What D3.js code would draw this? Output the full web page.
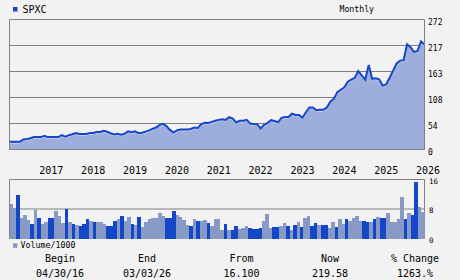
<!DOCTYPE html>
<html><head><meta charset="utf-8">
<script src="https://cdn.jsdelivr.net/npm/d3@7"></script>
<style>html,body{margin:0;padding:0;background:#f2f2f2;}svg{display:block;}</style>
</head><body>
<svg id="c" width="460" height="280"></svg>
<script>
const ticker = "SPXC";
const period = "Monthly";
const startMonth = "2016-04-01";
const price = [16.1,16,16,16.3,21,22,23.5,26,26,26,28.5,26,26,26,26,30,27,30,32,34.5,
32.5,32.5,32.5,34.5,34.5,36.5,36.8,39,37,34,31.5,33,31,33,38,36,38,34,35,37.5,
40,43,46,51,53.6,49,41,35.5,40,41.8,41.8,41.8,43,46,45,53,55.7,55.5,57.8,60,
62,63.4,62,67.6,64.5,56.5,60,60,62,54.4,53.6,53,44,51.5,55.7,61.3,59.6,57,66,68.2,
68.2,75,72.4,72,67,78,88,88,82,83,83,88,100,106,120,125,130,142,146,150,
164,155,146,177,148,149,147,134,136,150,165,180,186,187,220,214,204,206,226,219.58];
const volume = [9.4,8.3,11.8,5.5,6.4,5.0,3.9,7.7,5.5,3.9,4.45,5.5,5.5,7.4,6.1,4.2,8.0,4.45,3.9,3.6,
3.35,3.9,5.3,4.7,4.45,4.45,4.45,3.9,3.35,3.35,4.7,5.3,6.1,4.7,5.8,3.9,3.6,5.8,3.0,4.45,
5.3,5.5,5.5,6.9,6.1,5.5,5.5,7.4,6.4,5.8,5.0,3.6,3.35,5.3,4.7,4.7,5.0,4.2,3.35,5.3,
5.3,2.2,3.9,2.3,2.3,3.35,2.6,2.9,3.35,2.9,2.6,2.6,2.9,4.7,6.6,2.9,3.0,3.0,3.35,4.2,
3.35,2.3,3.6,4.45,3.0,5.5,6.1,3.35,4.2,3.6,3.6,3.6,2.9,4.45,3.0,5.3,3.9,5.3,4.7,5.5,
6.1,4.7,4.7,4.45,4.45,5.3,5.8,5.5,5.5,6.9,4.45,4.45,5.3,11.3,5.3,6.9,6.4,15.4,8.55,7.3];
const volumeUp = [0,0,1,0,0,0,1,0,1,0,0,1,1,0,0,0,1,0,1,0,
1,1,1,0,1,0,0,0,1,1,1,0,1,0,0,1,0,1,0,0,
0,0,0,0,0,1,1,1,0,0,0,0,1,0,1,0,0,1,0,0,
0,0,1,0,1,1,0,0,0,1,1,1,1,0,0,0,1,1,0,0,
1,0,1,0,1,0,0,1,1,0,1,1,0,0,1,0,0,1,0,0,
0,0,1,1,0,1,0,1,1,0,0,0,0,0,1,0,1,1,0,0];
const priceTicks = [0,54.4,108.8,163.2,217.6,272];
const priceTickLabels = ["0","54","108","163","217","272"];
const volTicks = [0,8,16];
const volTickLabels = ["0","8","16"];
const yearLabels = ["2017","2018","2019","2020","2021","2022","2023","2024","2025","2026"];
const summaryHeads = ["Begin","End","From","Now","% Change"];
const summaryVals = ["04/30/16","03/03/26","16.100","219.58","1263.%"];

const svg = d3.select("#c");
const FONT = "'DejaVu Sans Mono', monospace";
const L = 9.5, R = 424.5;
const start = new Date(startMonth + "T00:00:00");
const dates = price.map((_, i) => d3.timeMonth.offset(start, i));

const idx = d3.scaleLinear().domain([0, price.length - 1]).range([L, R]);
const x = d3.scaleTime().domain([dates[0], dates[dates.length - 1]]).range([L, R]);
const y = d3.scaleLinear().domain([0, 272]).range([149.5, 19.5]);
const xb = d3.scaleBand().domain(d3.range(volume.length)).range([L, R]).padding(0);
const yv = d3.scaleLinear().domain([0, 16]).range([238.5, 179.5]);

const DARK = "#1446c8", LIGHT = "#8899c6", FILL = "#9daedd", GRID = "#808080";

// legend
svg.append("rect").attr("x", 13).attr("y", 7).attr("width", 4.5).attr("height", 4.5).attr("fill", DARK);
svg.append("text").attr("x", 22.5).attr("y", 12.6).attr("font-family", FONT).attr("font-size", 10).text(ticker);
svg.append("text").attr("x", 339.5).attr("y", 12.3).attr("font-family", FONT).attr("font-size", 8.2).text(period);

// price grid
svg.append("g").selectAll("line").data(priceTicks).join("line")
  .attr("x1", L).attr("x2", R).attr("y1", d => y(d)).attr("y2", d => y(d))
  .attr("stroke", GRID).attr("stroke-width", 1);

// area + line
const area = d3.area().x((d, i) => idx(i)).y0(y(0)).y1(d => y(d));
const line = d3.line().x((d, i) => idx(i)).y(d => y(d));
svg.append("path").datum(price).attr("d", area).attr("fill", FILL);
svg.append("path").datum(price).attr("d", line).attr("fill", "none").attr("stroke", "#ffffff")
  .attr("stroke-width", 0.8).attr("opacity", 0.6).attr("transform", "translate(0,1.3)");
svg.append("path").datum(price).attr("d", line).attr("fill", "none").attr("stroke", DARK)
  .attr("stroke-width", 2).attr("stroke-linejoin", "miter");

// frame main
svg.append("line").attr("x1", L).attr("x2", R).attr("y1", y(0)).attr("y2", y(0)).attr("stroke", GRID);
svg.append("line").attr("x1", L).attr("x2", L).attr("y1", y(272)).attr("y2", y(0)).attr("stroke", GRID);
svg.append("line").attr("x1", R).attr("x2", R).attr("y1", y(272)).attr("y2", y(0)).attr("stroke", GRID);

// price axis labels
svg.selectAll("text.pt").data(priceTicks).join("text").attr("class", "pt")
  .attr("x", 428).attr("y", d => y(d) + 5).attr("font-family", FONT).attr("font-size", 8)
  .text((d, i) => priceTickLabels[i]);

// year labels
svg.selectAll("text.yr").data(yearLabels).join("text").attr("class", "yr")
  .attr("x", d => x(new Date(+d, 3, 1))).attr("y", 174).attr("text-anchor", "middle")
  .attr("font-family", FONT).attr("font-size", 10).text(d => d);

// volume grid
svg.selectAll("line.vg").data(volTicks).join("line").attr("class", "vg")
  .attr("x1", L).attr("x2", R).attr("y1", d => yv(d)).attr("y2", d => yv(d)).attr("stroke", GRID);
svg.append("line").attr("x1", L).attr("x2", L).attr("y1", yv(16)).attr("y2", yv(0)).attr("stroke", GRID);
svg.append("line").attr("x1", R).attr("x2", R).attr("y1", yv(16)).attr("y2", yv(0)).attr("stroke", GRID);

// volume bars
svg.append("g").selectAll("rect").data(volume).join("rect")
  .attr("x", (d, i) => xb(i)).attr("width", xb.bandwidth())
  .attr("y", d => yv(d)).attr("height", d => yv(0) - yv(d))
  .attr("fill", (d, i) => volumeUp[i] ? DARK : LIGHT).attr("shape-rendering", "crispEdges");

svg.selectAll("text.vt").data(volTicks).join("text").attr("class", "vt")
  .attr("x", 429).attr("y", d => yv(d) + 4).attr("font-family", FONT).attr("font-size", 7.5)
  .text((d, i) => volTickLabels[i]);

// volume legend
svg.append("rect").attr("x", 13).attr("y", 243.3).attr("width", 4.5).attr("height", 4.5).attr("fill", LIGHT);
svg.append("text").attr("x", 20.5).attr("y", 248).attr("font-family", FONT).attr("font-size", 8.3).text("Volume/1000");

// summary
const cols = [60, 147, 241.5, 330, 415];
svg.selectAll("text.sh").data(summaryHeads).join("text").attr("class", "sh")
  .attr("x", (d, i) => cols[i]).attr("y", 262).attr("text-anchor", "middle")
  .attr("font-family", FONT).attr("font-size", 10).text(d => d);
svg.selectAll("text.sv").data(summaryVals).join("text").attr("class", "sv")
  .attr("x", (d, i) => cols[i]).attr("y", 277).attr("text-anchor", "middle")
  .attr("font-family", FONT).attr("font-size", 10).text(d => d);
</script>
</body></html>
